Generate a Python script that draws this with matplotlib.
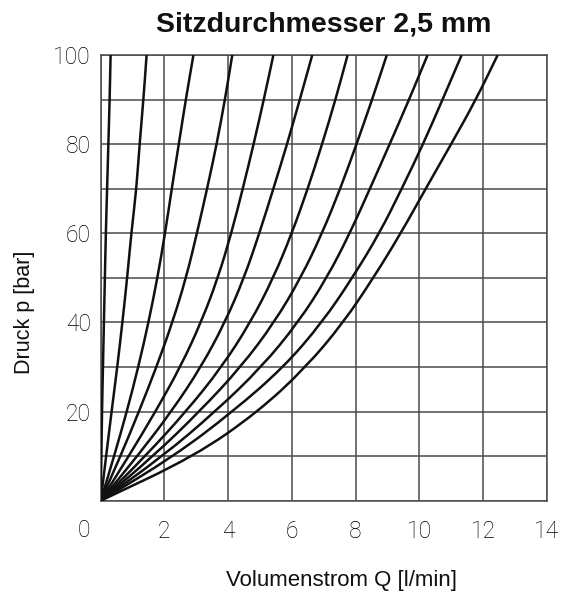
import numpy as np
from matplotlib import pyplot as plt
from matplotlib.path import Path
from matplotlib.patches import PathPatch
from matplotlib import transforms

# pressure levels (bar) and flow of each curve at those levels (l/min)
p_levels = [0, 10, 20, 30, 40, 50, 60, 70, 80, 90, 100]
curves = [
    [0, 0.02, 0.04, 0.07, 0.10, 0.13, 0.16, 0.20, 0.24, 0.28, 0.31],
    [0, 0.17, 0.34, 0.52, 0.68, 0.83, 0.96, 1.12, 1.22, 1.34, 1.44],
    [0, 0.42, 0.82, 1.18, 1.50, 1.78, 2.02, 2.23, 2.45, 2.67, 2.91],
    [0, 0.62, 1.20, 1.75, 2.25, 2.68, 3.02, 3.34, 3.64, 3.90, 4.13],
    [0, 0.88, 1.72, 2.50, 3.15, 3.68, 4.10, 4.46, 4.80, 5.12, 5.42],
    [0, 1.15, 2.22, 3.15, 3.90, 4.50, 4.98, 5.42, 5.85, 6.25, 6.64],
    [0, 1.40, 2.68, 3.80, 4.70, 5.42, 6.00, 6.50, 6.95, 7.37, 7.75],
    [0, 1.65, 3.10, 4.40, 5.45, 6.28, 6.95, 7.52, 8.03, 8.52, 8.98],
    [0, 1.95, 3.60, 5.05, 6.20, 7.10, 7.82, 8.45, 9.07, 9.68, 10.26],
    [0, 2.30, 4.15, 5.75, 6.95, 7.90, 8.75, 9.45, 10.12, 10.73, 11.33],
    [0, 2.95, 4.95, 6.45, 7.62, 8.56, 9.42, 10.20, 11.00, 11.78, 12.46],
]
x_ticks = [0, 2, 4, 6, 8, 10, 12, 14]
y_ticks = [20, 40, 60, 80, 100]


def smooth_path(xs, ys):
    # quadratic bezier through midpoints, read points act as control points
    pts = np.column_stack([xs, ys])
    verts = [pts[0], (pts[0] + pts[1]) / 2]
    codes = [Path.MOVETO, Path.LINETO]
    for i in range(1, len(pts) - 1):
        verts += [pts[i], (pts[i] + pts[i + 1]) / 2]
        codes += [Path.CURVE3, Path.CURVE3]
    verts.append(pts[-1])
    codes.append(Path.LINETO)
    return Path(verts, codes)


fig = plt.figure(figsize=(5.71, 5.99), dpi=100)
ax = fig.add_axes([0.1764, 0.1641, 0.7811, 0.7441])

grid_col = "#4a4a4a"
for xv in x_ticks:
    ax.axvline(xv, color=grid_col, lw=1.1, zorder=1)
for yv in range(0, 101, 10):
    ax.axhline(yv, color=grid_col, lw=1.1, zorder=1)

for q in curves:
    ax.add_patch(PathPatch(smooth_path(q, p_levels), fill=False,
                           edgecolor="#111111", lw=1.8, zorder=3,
                           capstyle="butt"))

ax.set_xlim(0, 14)
ax.set_ylim(0, 100)
ax.set_xticks(x_ticks)
ax.set_yticks(y_ticks)
tick_font = dict(family="Roboto", weight="light", size=16.5, color="#000000")
ax.set_xticklabels(["" if v == 0 else str(v) for v in x_ticks], **tick_font)
ax.set_yticklabels([str(v) for v in y_ticks], **tick_font)
ax.tick_params(length=0)
ax.tick_params(axis="x", pad=14)
ax.tick_params(axis="y", pad=7)
for s in ax.spines.values():
    s.set_color(grid_col)
    s.set_linewidth(1.1)

# origin label sits a little left of the axis
shift = transforms.ScaledTranslation(-17 / 100, 0, fig.dpi_scale_trans)
ax.text(0, -0.066, "0", transform=ax.get_xaxis_transform() + shift,
        ha="center", va="center", **tick_font)

ax.set_title("Sitzdurchmesser 2,5 mm", family="Liberation Sans",
             fontweight="bold", fontsize=20.5, pad=17, color="#111111")
ax.set_xlabel("Volumenstrom Q [l/min]", family="Liberation Sans",
              fontsize=16, color="#111111", va="center")
ax.set_ylabel("Druck p [bar]", family="Liberation Sans",
              fontsize=15.5, color="#111111", va="center")
ax.xaxis.set_label_coords(0.539, -0.178)
ax.yaxis.set_label_coords(-0.17, 0.423)

fig.savefig("out.png", dpi=100)
